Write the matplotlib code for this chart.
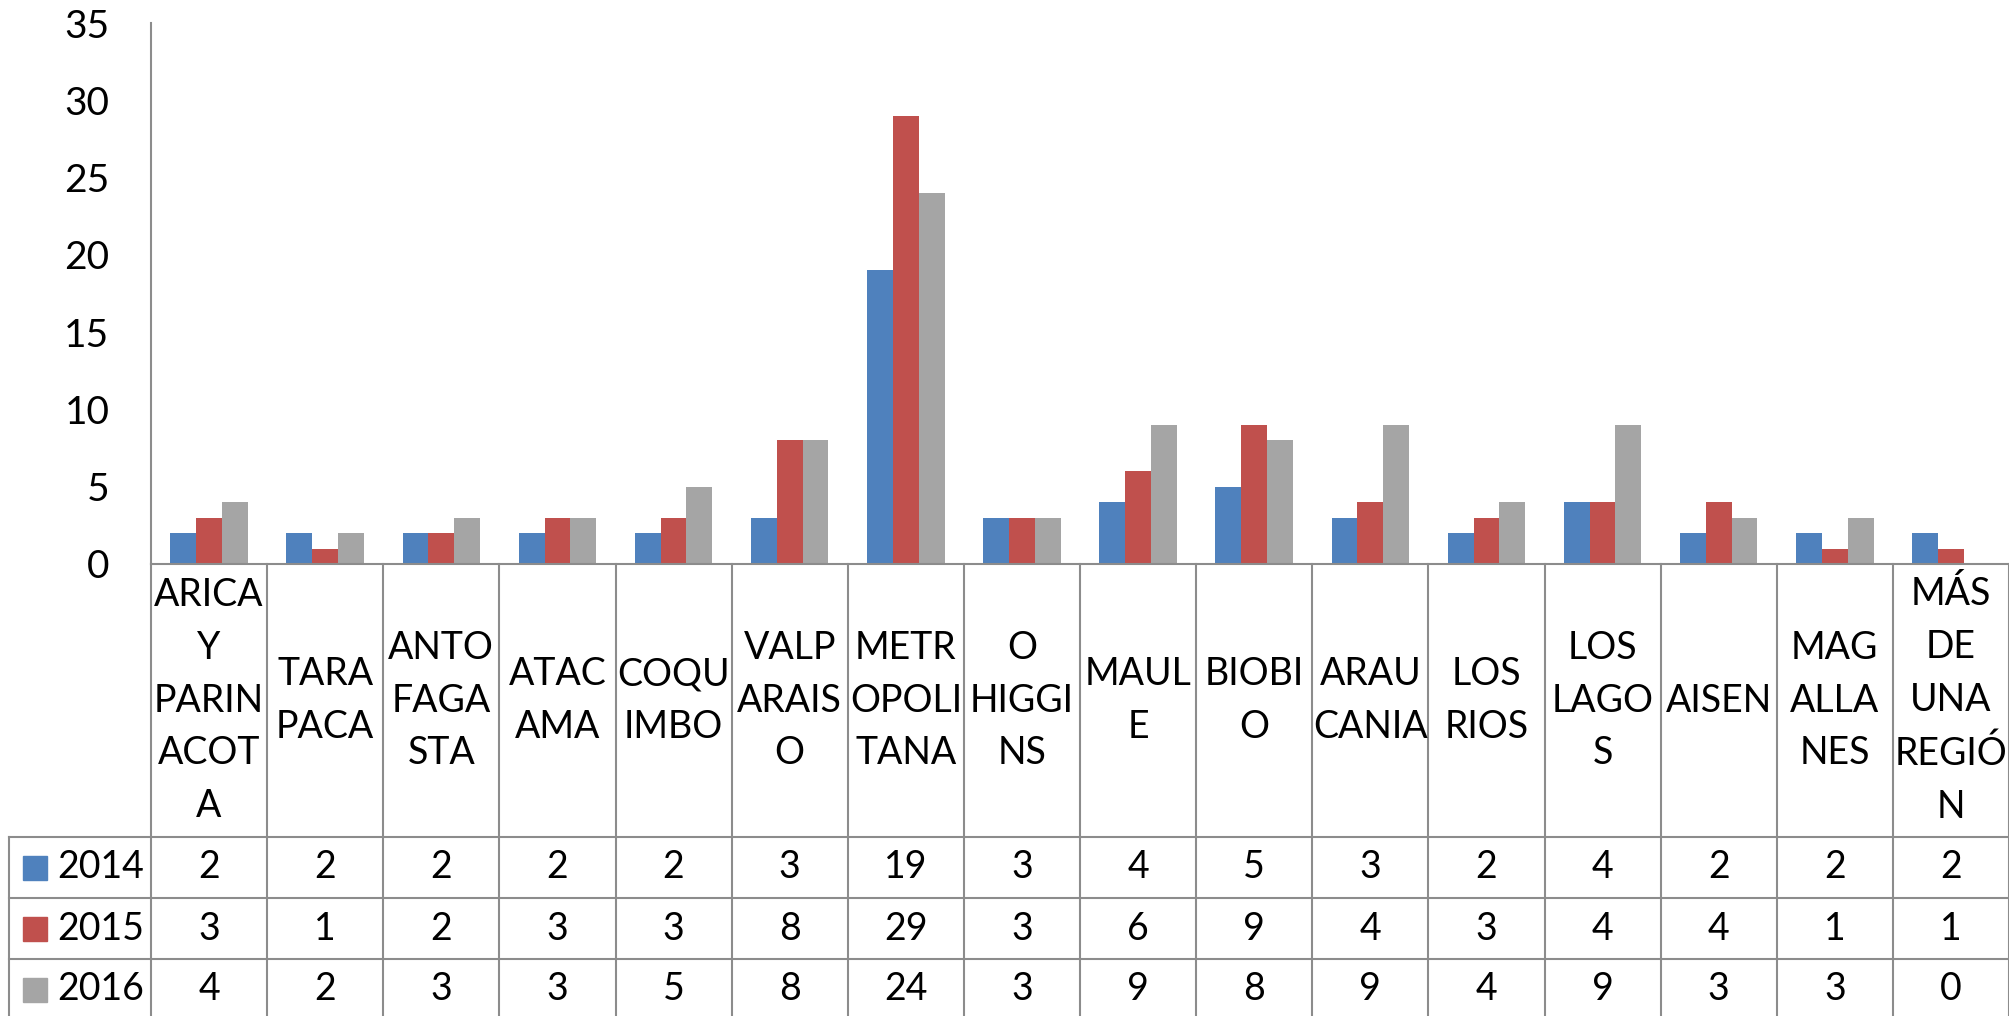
import matplotlib.pyplot as plt
import numpy as np

# data
regions = ["ARICA\nY\nPARIN\nACOT\nA", "TARA\nPACA", "ANTO\nFAGA\nSTA", "ATAC\nAMA",
           "COQU\nIMBO", "VALP\nARAIS\nO", "METR\nOPOLI\nTANA", "O\nHIGGI\nNS",
           "MAUL\nE", "BIOBI\nO", "ARAU\nCANIA", "LOS\nRIOS", "LOS\nLAGO\nS",
           "AISEN", "MAG\nALLA\nNES", "MÁS\nDE\nUNA\nREGIÓ\nN"]
years = ["2014", "2015", "2016"]
v2014 = [2, 2, 2, 2, 2, 3, 19, 3, 4, 5, 3, 2, 4, 2, 2, 2]
v2015 = [3, 1, 2, 3, 3, 8, 29, 3, 6, 9, 4, 3, 4, 4, 1, 1]
v2016 = [4, 2, 3, 3, 5, 8, 24, 3, 9, 8, 9, 4, 9, 3, 3, 0]
yticks = [0, 5, 10, 15, 20, 25, 30, 35]

series = [v2014, v2015, v2016]
colors = ["#4F81BD", "#C0504D", "#A5A5A5"]
line_c = "#8C8C8C"

plt.rcParams["font.family"] = ["Lato", "DejaVu Sans"]
fs = 27

W, H = 2009, 1016
fig = plt.figure(figsize=(W / 100, H / 100), dpi=100)

x0, y0, ytop = 151, 564, 23  # pixel positions of axis corner / top
ax = fig.add_axes([x0 / W, (H - y0) / H, (W - x0) / W, (y0 - ytop) / H])

n = len(regions)
x = np.arange(n)
bw = 0.2222
for i, (vals, c) in enumerate(zip(series, colors)):
    ax.bar(x + (i - 1) * bw, vals, bw, color=c, edgecolor="none", label=years[i])

ax.set_xlim(-0.5, n - 0.5)
ax.set_ylim(0, 35)
ax.set_yticks(yticks)
ax.set_xticks([])
ax.tick_params(axis="y", length=0, pad=30, labelsize=fs + 1)
for s in ["top", "right"]:
    ax.spines[s].set_visible(False)
for s in ["left", "bottom"]:
    ax.spines[s].set_color(line_c)
    ax.spines[s].set_linewidth(1.5)

# data table under the chart
tab_h = H - y0
tab = fig.add_axes([x0 / W, 0, (W - x0) / W, tab_h / H])
tab.set_xlim(-0.5, n - 0.5)
tab.set_ylim(tab_h, 0)
tab.axis("off")

head_h, row_h = 273, 61
cell_w = (W - x0) / n
leg_left = -0.5 - (x0 - 9) / cell_w
for k in range(n + 1):
    tab.plot([k - 0.5, k - 0.5], [0, tab_h], color=line_c, lw=1.5, clip_on=False)
for r in range(3):
    yy = head_h + r * row_h
    tab.plot([leg_left, n - 0.5], [yy, yy], color=line_c, lw=1.5, clip_on=False)
tab.plot([leg_left, leg_left], [head_h, tab_h], color=line_c, lw=1.5, clip_on=False)

for k, name in enumerate(regions):
    tab.text(k, head_h / 2, name, ha="center", va="center", fontsize=fs,
             linespacing=1.58)

for r, (yr, vals, c) in enumerate(zip(years, series, colors)):
    yc = head_h + r * row_h + row_h / 2
    for k, v in enumerate(vals):
        tab.text(k, yc, str(v), ha="center", va="center", fontsize=fs)
    sq_x = leg_left + (23 - 9) / cell_w
    tab.add_patch(plt.Rectangle((sq_x, yc - 12), 24 / cell_w, 24, color=c,
                                clip_on=False))
    tab.text(leg_left + (57 - 9) / cell_w, yc, yr, ha="left", va="center",
             fontsize=fs)

fig.savefig("out.png", dpi=100)
